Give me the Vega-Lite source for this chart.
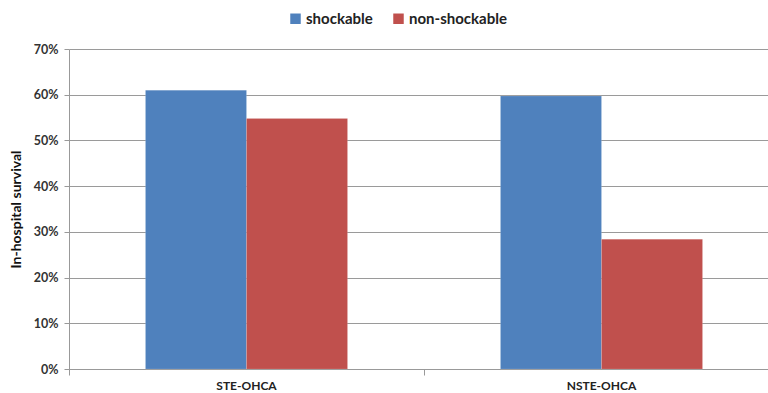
{
  "$schema": "https://vega.github.io/schema/vega-lite/v6.json",
  "autosize": "none",
  "width": 699,
  "height": 320,
  "padding": {"left": 69, "top": 49, "right": 0, "bottom": 24},
  "background": "white",
  "config": {"font": "Lato", "view": {"stroke": null}},
  "data": {"values": [
    {"group": "STE-OHCA", "rhythm": "shockable", "survival": 0.61},
    {"group": "STE-OHCA", "rhythm": "non-shockable", "survival": 0.548},
    {"group": "NSTE-OHCA", "rhythm": "shockable", "survival": 0.597},
    {"group": "NSTE-OHCA", "rhythm": "non-shockable", "survival": 0.284}
  ]},
  "mark": {"type": "bar", "stroke": "white", "strokeOpacity": 0.25, "strokeWidth": 0.5},
  "encoding": {
    "x": {
      "field": "group", "type": "nominal",
      "sort": ["STE-OHCA", "NSTE-OHCA"],
      "scale": {"paddingInner": 0, "paddingOuter": 0, "range": [0, 710]},
      "axis": {
        "title": null, "labelAngle": 0, "bandPosition": 0,
        "labelFont": "Lato", "labelFontWeight": "bold", "labelFontSize": 12, "labelColor": "#222",
        "domainColor": "#999", "tickColor": "#999", "tickSize": 6, "labelPadding": 5
      }
    },
    "xOffset": {
      "field": "rhythm", "type": "nominal",
      "sort": ["shockable", "non-shockable"],
      "scale": {"paddingInner": 0, "paddingOuter": 0.757}
    },
    "y": {
      "field": "survival", "type": "quantitative",
      "scale": {"domain": [0, 0.7], "nice": false},
      "axis": {
        "title": "In-hospital survival", "titleFont": "Lato", "titleFontWeight": "bold", "titleFontSize": 14, "titleColor": "#111",
        "titlePadding": 10,
        "format": ".0%", "values": [0, 0.1, 0.2, 0.3, 0.4, 0.5, 0.6, 0.7], "labelOverlap": false,
        "labelFont": "Lato", "labelFontWeight": "bold", "labelFontSize": 12.5, "labelColor": "#333", "labelPadding": 6,
        "grid": true, "gridColor": "#9a9a9a", "gridWidth": 1,
        "domainColor": "#999", "tickColor": "#999", "tickSize": 5
      }
    },
    "color": {
      "field": "rhythm", "type": "nominal",
      "sort": ["shockable", "non-shockable"],
      "scale": {"domain": ["shockable", "non-shockable"], "range": ["#4F81BD", "#C0504D"]},
      "legend": {
        "title": null, "orient": "none", "direction": "horizontal",
        "legendX": 219, "legendY": -38,
        "symbolType": "square", "symbolSize": 110, "symbolStrokeWidth": 0,
        "labelFont": "Lato", "labelFontWeight": "bold", "labelFontSize": 15, "labelColor": "#222",
        "labelOffset": 3, "columnPadding": 18
      }
    }
  }
}
